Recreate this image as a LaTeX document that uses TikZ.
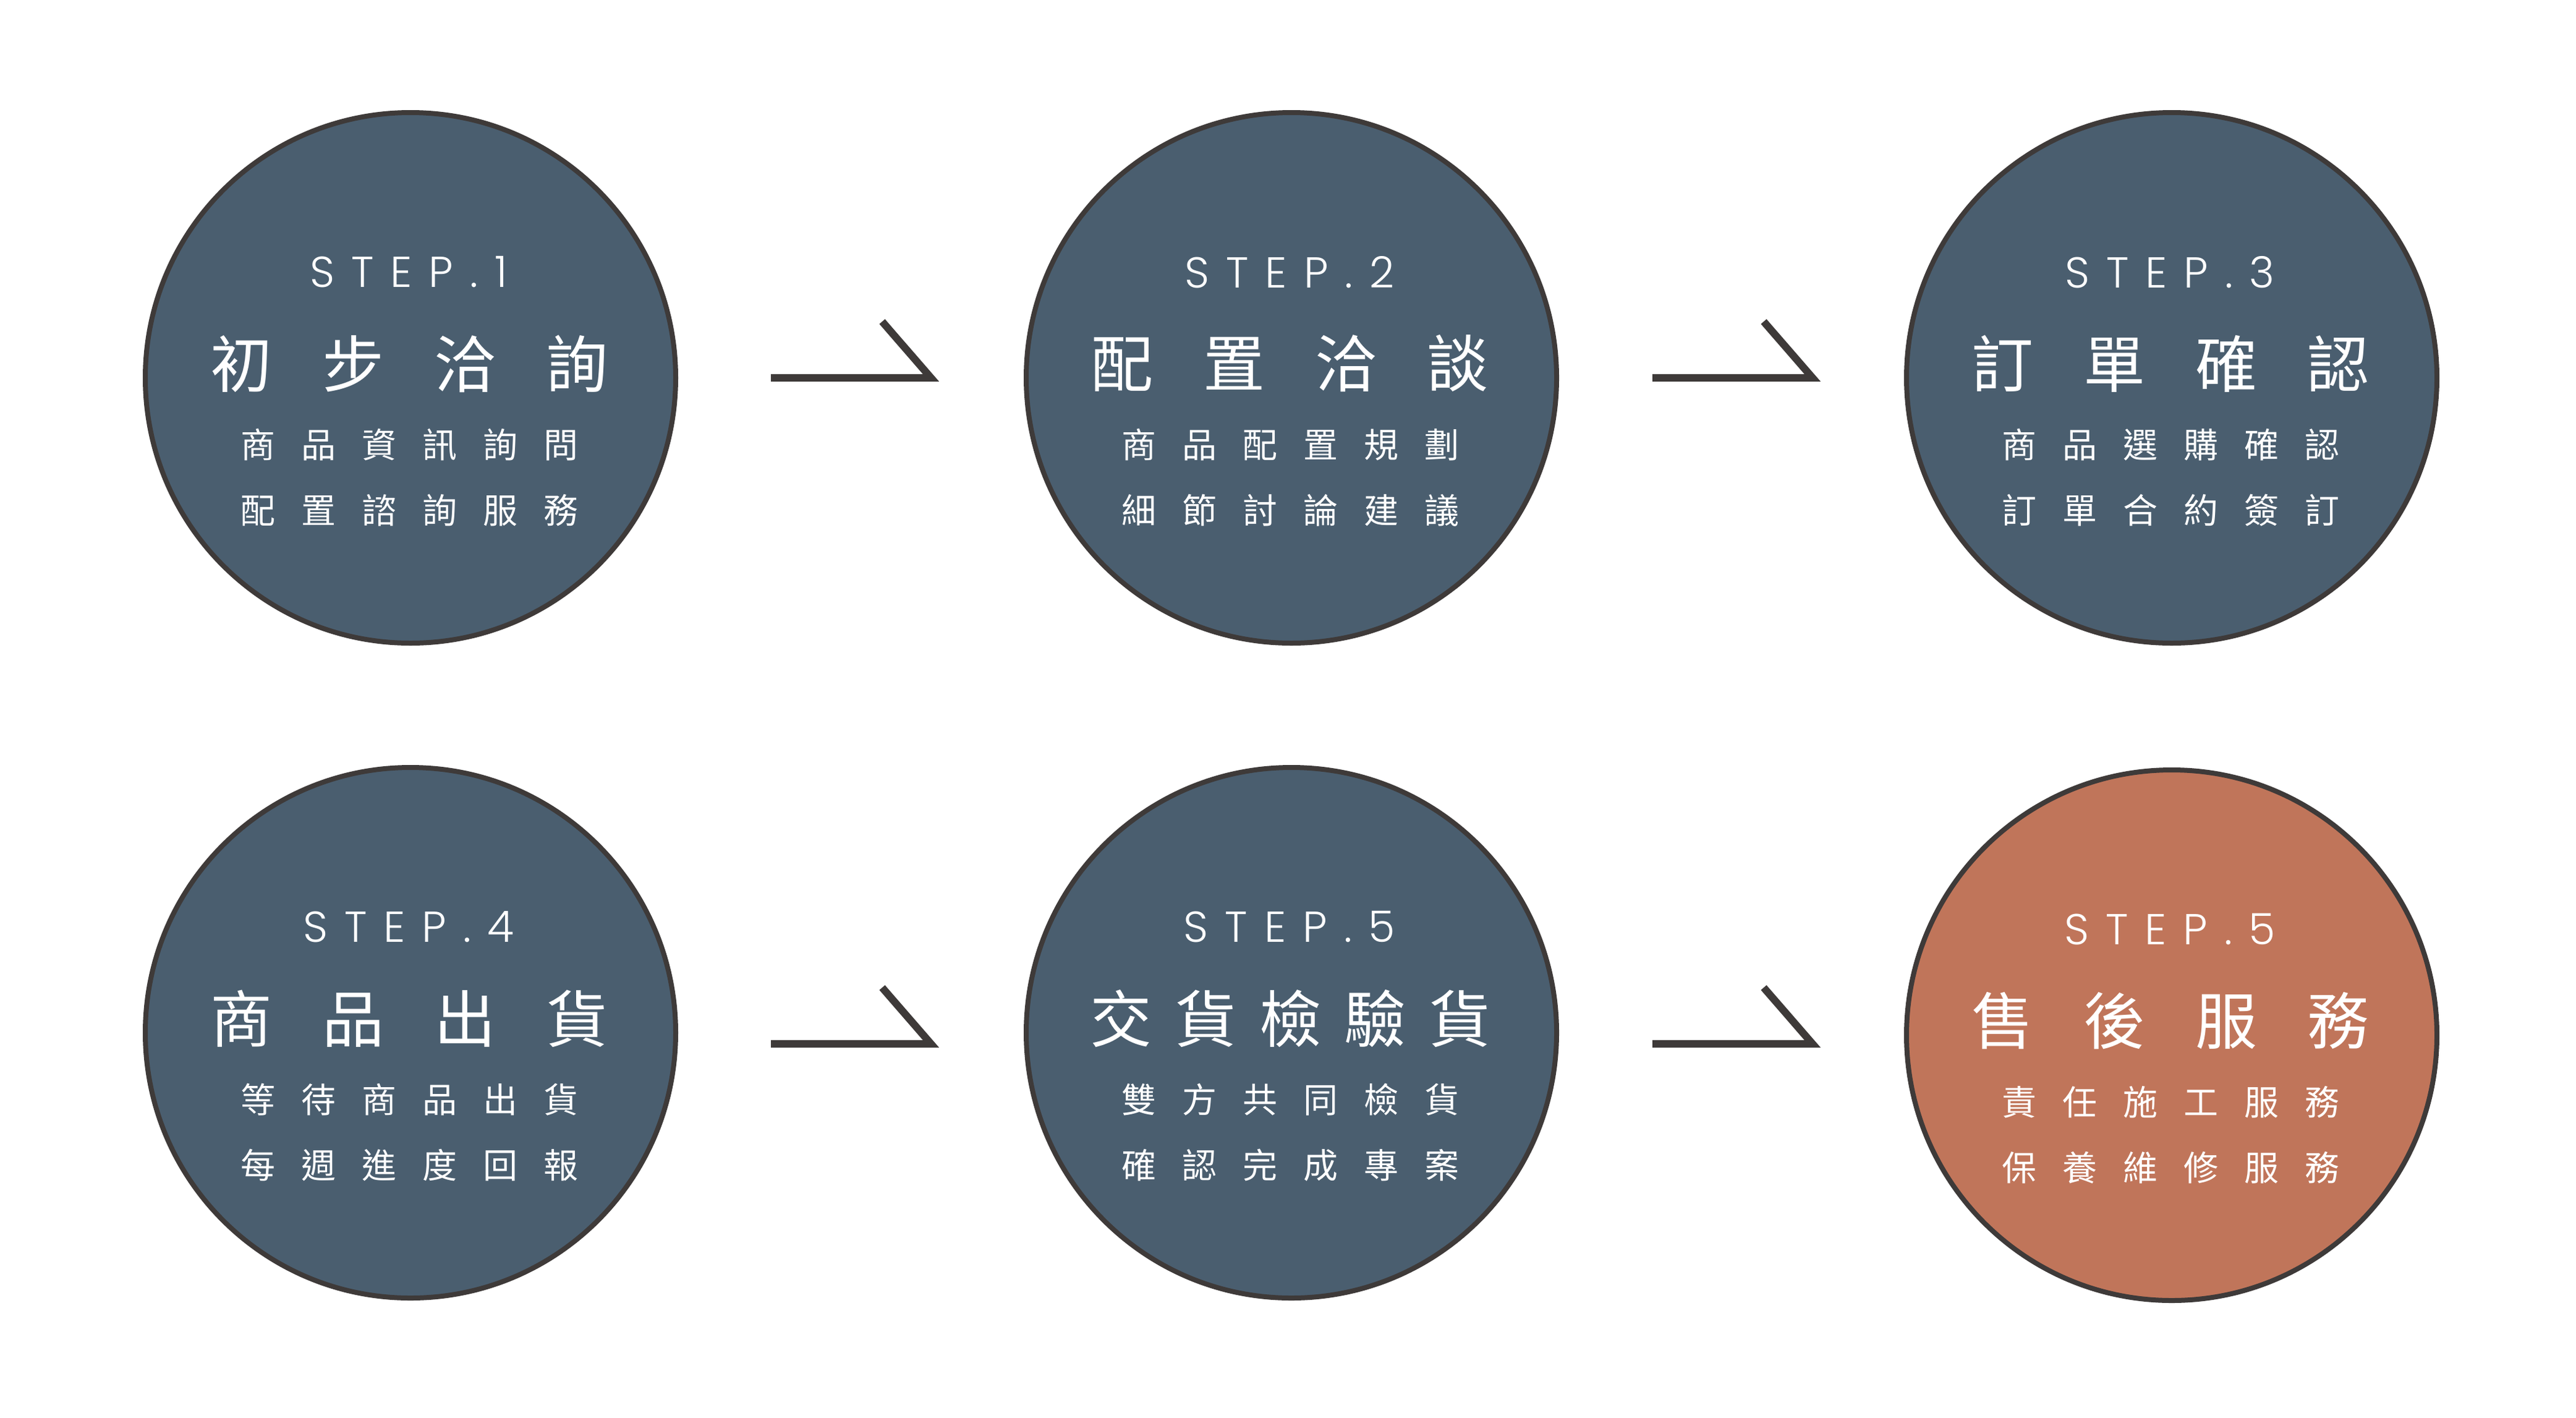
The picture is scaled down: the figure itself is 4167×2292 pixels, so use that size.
\documentclass[tikz,border=0pt]{standalone}
\usepackage{fontspec}
\newfontfamily\cjk{Noto Sans CJK TC}
\newfontfamily\stepfont{Poppins}[UprightFont=* Light]
\usetikzlibrary{calc}
\definecolor{slate}{HTML}{4A5E6F}
\definecolor{terra}{HTML}{C0755A}
\definecolor{inkline}{HTML}{3E3A39}
\ExplSyntaxOn
\NewDocumentCommand\spreadtxt{m m}{
  \seq_clear:N \l_tmpa_seq
  \tl_map_inline:nn {#2} { \seq_put_right:Nn \l_tmpa_seq {##1} }
  \seq_use:Nn \l_tmpa_seq { \kern #1 \relax }
}
\ExplSyntaxOff
\tikzset{
  stepcircle/.style={circle, draw=inkline, line width=8pt, minimum size=858pt, inner sep=0pt},
  steplabel/.style={text=white, inner sep=0pt, font=\stepfont\fontsize{70}{80}\selectfont},
  titlelabel/.style={text=white, inner sep=0pt, font=\cjk\fontsize{100}{110}\selectfont},
  sublabel/.style={text=white, inner sep=0pt, font=\cjk\fontsize{56}{62}\selectfont},
  arrowline/.style={draw=inkline, line width=12pt, line join=miter, line cap=butt}
}
\newcommand\stepcontent[6]{%
  % #1 circle name, #2 step text, #3 title kern, #4 title, #5 sub1, #6 sub2
  \node[steplabel] (#1s) at ($(#1)+(-3,-171)$) {\spreadtxt{27pt}{#2}};
  \node[titlelabel] (#1t) at ($(#1)+(-2,-23)$) {\spreadtxt{#3}{#4}};
  \node[sublabel] (#1a) at ($(#1)+(-2,108)$) {\spreadtxt{42pt}{#5}};
  \node[sublabel] (#1b) at ($(#1)+(-2,214)$) {\spreadtxt{42pt}{#6}};
}
\begin{document}
\begin{tikzpicture}[x=1pt,y=-1pt]
\useasboundingbox (0,0) rectangle (4167,2292);
\fill[white] (0,0) rectangle (4167,2292);

\node[stepcircle, fill=slate] (c1) at (664,611) {};
\node[stepcircle, fill=slate] (c2) at (2089,611) {};
\node[stepcircle, fill=slate] (c3) at (3513,611) {};
\node[stepcircle, fill=slate] (c4) at (664,1670) {};
\node[stepcircle, fill=slate] (c5) at (2089,1670) {};
\node[stepcircle, fill=terra] (c6) at (3513,1674) {};

\stepcontent{c1}{STEP.1}{81pt}{初步洽詢}{商品資訊詢問}{配置諮詢服務}
\stepcontent{c2}{STEP.2}{81pt}{配置洽談}{商品配置規劃}{細節討論建議}
\stepcontent{c3}{STEP.3}{81pt}{訂單確認}{商品選購確認}{訂單合約簽訂}
\stepcontent{c4}{STEP.4}{81pt}{商品出貨}{等待商品出貨}{每週進度回報}
\stepcontent{c5}{STEP.5}{37pt}{交貨檢驗貨}{雙方共同檢貨}{確認完成專案}
\stepcontent{c6}{STEP.5}{81pt}{售後服務}{責任施工服務}{保養維修服務}

% arrows
\coordinate (a1s) at (1247,611);
\coordinate (a1c) at (1506,611);
\coordinate (a1e) at (1427,520);
\coordinate (a2s) at (2673,611);
\coordinate (a2c) at (2932,611);
\coordinate (a2e) at (2853,520);
\coordinate (a3s) at (1247,1688);
\coordinate (a3c) at (1506,1688);
\coordinate (a3e) at (1427,1597);
\coordinate (a4s) at (2673,1688);
\coordinate (a4c) at (2932,1688);
\coordinate (a4e) at (2853,1597);
\draw[arrowline] (a1s) -- (a1c) -- (a1e);
\draw[arrowline] (a2s) -- (a2c) -- (a2e);
\draw[arrowline] (a3s) -- (a3c) -- (a3e);
\draw[arrowline] (a4s) -- (a4c) -- (a4e);
\end{tikzpicture}
\end{document}
